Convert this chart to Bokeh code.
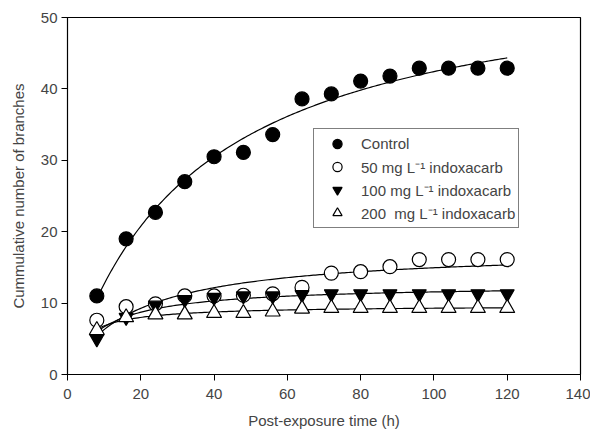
import numpy as np
from bokeh.plotting import figure
from bokeh.models import Legend, LegendItem
from bokeh.embed import file_html
from bokeh.resources import INLINE

hours = [8, 16, 24, 32, 40, 48, 56, 64, 72, 80, 88, 96, 104, 112, 120]
control = [11.0, 19.0, 22.7, 27.0, 30.5, 31.1, 33.6, 38.6, 39.3, 41.1, 41.8, 42.9, 42.9, 42.9, 42.9]
mg50 = [7.6, 9.5, 9.9, 11.0, 11.0, 11.1, 11.3, 12.2, 14.2, 14.4, 15.1, 16.1, 16.1, 16.1, 16.1]
mg100 = [5.0, 8.0, 9.7, 10.5, 10.8, 11.0, 11.0, 11.2, 11.3, 11.3, 11.3, 11.3, 11.3, 11.3, 11.3]
mg200 = [6.2, 8.0, 8.4, 8.4, 8.6, 8.6, 8.8, 9.2, 9.3, 9.3, 9.3, 9.3, 9.3, 9.3, 9.3]
labels = ["Control", "50 mg L\u207b\u00b9 indoxacarb", "100 mg L\u207b\u00b9 indoxacarb",
          "200  mg L\u207b\u00b9 indoxacarb"]
x_ticks = [0, 20, 40, 60, 80, 100, 120, 140]
y_ticks = [0, 10, 20, 30, 40, 50]

FONT = "Liberation Sans"


def fit_curve(x, y):
    # least-squares fit of the saturation model y = a*x/(b+x)
    x = np.asarray(x, float)
    y = np.asarray(y, float)
    best = None
    for b in np.linspace(0.5, 200, 2000):
        g = x / (b + x)
        a = np.dot(g, y) / np.dot(g, g)
        err = np.sum((a * g - y) ** 2)
        if best is None or err < best[0]:
            best = (err, a, b)
    _, a, b = best
    xs = np.linspace(x.min(), x.max(), 200)
    return xs, a * xs / (b + xs)


p = figure(width=590, height=431, x_range=(0, 140), y_range=(0, 50),
           output_backend="svg", toolbar_location=None,
           min_border_left=67, min_border_right=10, min_border_top=17,
           min_border_bottom=55)

p.grid.visible = False
p.outline_line_color = "black"
p.outline_line_width = 1.2

series = [control, mg50, mg100, mg200]
markers = ["circle", "circle", "inverted_triangle", "triangle"]
fills = ["black", "white", "black", "white"]
sizes = [14, 14, 14, 15]

for s in series:
    xs, ys = fit_curve(hours, s)
    p.line(xs, ys, line_color="black", line_width=1.2)

items = []
for s, m, f, sz, lab in zip(series, markers, fills, sizes, labels):
    r = p.scatter(hours, s, marker=m, size=sz, fill_color=f, line_color="black", line_width=1.2)
    items.append(LegendItem(label=lab, renderers=[r]))

legend = Legend(items=items, location=(246, 146), label_text_font=FONT,
                label_text_font_size="15px", border_line_color="black",
                border_line_width=1.2, glyph_height=23, label_height=23,
                glyph_width=40, spacing=0, padding=3, label_standoff=4,
                margin=0, background_fill_alpha=1)
p.add_layout(legend, "center")

for ax in (p.xaxis, p.yaxis):
    ax.axis_line_color = "black"
    ax.major_tick_line_color = "black"
    ax.major_tick_in = 0
    ax.major_tick_out = 6
    ax.minor_tick_line_color = None
    ax.major_label_text_font = FONT
    ax.major_label_text_font_size = "15px"
    ax.axis_label_text_font = FONT
    ax.axis_label_text_font_size = "15px"
    ax.axis_label_text_font_style = "normal"

p.xaxis.ticker = x_ticks
p.yaxis.ticker = y_ticks
p.xaxis.axis_label = "Post-exposure time (h)"
p.yaxis.axis_label = "Cummulative number of branches"
p.xaxis.major_label_standoff = 8
p.xaxis.axis_label_standoff = 10
p.yaxis.major_label_standoff = 4
p.yaxis.axis_label_standoff = 11

open("out.html", "w").write(file_html(p, INLINE))
